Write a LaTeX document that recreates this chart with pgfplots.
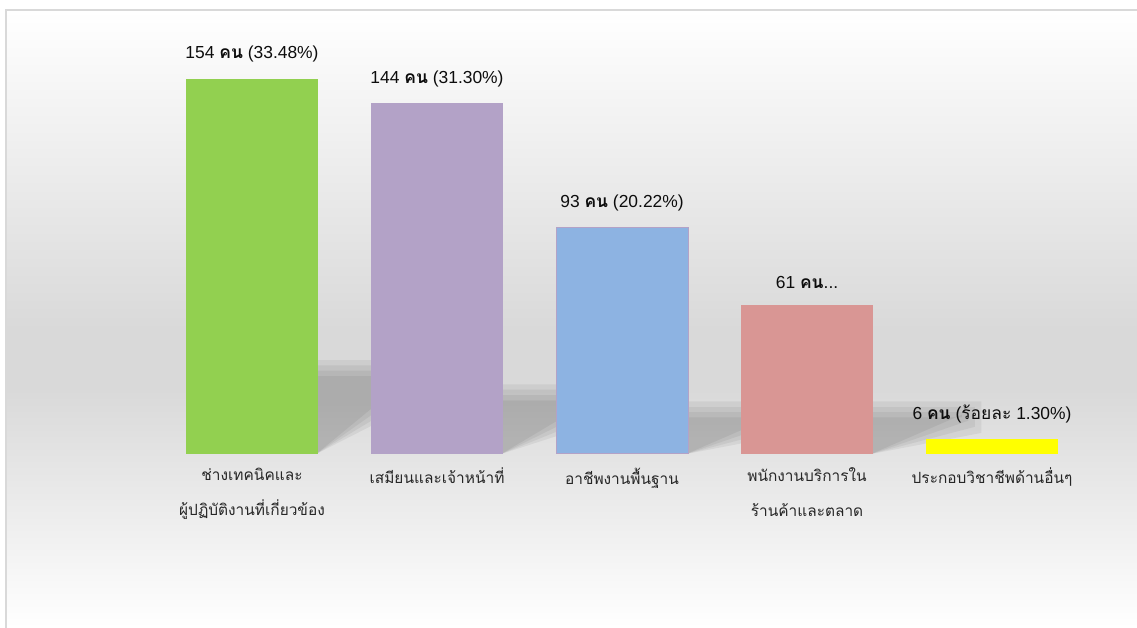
\documentclass[border=0pt]{standalone}
\usepackage{fontspec}
\setmainfont{Liberation Sans}
\newfontfamily\thai[Script=Thai]{Loma}
\usepackage{pgfplots}
\pgfplotsset{compat=1.18}
\definecolor{cgreen}{HTML}{92D050}
\definecolor{cpurple}{HTML}{B3A2C7}
\definecolor{cblue}{HTML}{8DB3E2}
\definecolor{cred}{HTML}{D99694}
\definecolor{cyellow}{HTML}{FFFF00}
\definecolor{cbg}{HTML}{D9D9D9}
% soft shadow: #1 = right edge of bar, #2 = shadow height, #3 = layer
\newcommand\shlayer[3]{%
  \fill[black, opacity=0.055] (axis cs:#1-0.01,0) -- (axis cs:#1+0.48+0.035*#3,0.85*#2-2.5*#3) -- (axis cs:#1+0.48+0.035*#3,#2-4+2.2*#3) -- (axis cs:#1-0.01,#2-4+2.2*#3) -- cycle;}
\newcommand\shadow[2]{\shlayer{#1}{#2}{0}\shlayer{#1}{#2}{1}\shlayer{#1}{#2}{2}\shlayer{#1}{#2}{3}}
\begin{document}
\begin{tikzpicture}[x=1bp,y=1bp]
\useasboundingbox (0,0) rectangle (1137,628);
\fill[white] (0,0) rectangle (1137,628);
\shade[top color=white, bottom color=cbg] (6,298) rectangle (1137,618);
\fill[cbg] (6,238) rectangle (1137,298.5);
\shade[top color=cbg, bottom color=white] (6,0) rectangle (1137,238.5);
\draw[cbg, line width=1.5bp] (6,0) -- (6,618) -- (1137,618);
\begin{axis}[
  at={(252bp,174bp)}, anchor=origin,
  x=185bp, y=2.435bp,
  xmin=-1.3, xmax=4.7, ymin=0, ymax=170,
  clip=false,
  axis line style={draw=none},
  tick style={draw=none},
  ytick=\empty,
  xtick={0,1,2,3,4},
  xticklabels={{ช่างเทคนิคและ\\ผู้ปฏิบัติงานที่เกี่ยวข้อง},{เสมียนและเจ้าหน้าที่},{อาชีพงานพื้นฐาน},{พนักงานบริการใน\\ร้านค้าและตลาด},{ประกอบวิชาชีพด้านอื่นๆ}},
  xticklabel style={font=\thai\fontsize{15.5}{35}\selectfont, align=center, text=black!85, anchor=north, yshift=-6bp},
  ybar, bar width=132bp, bar shift=0pt,
  nodes near coords style={font=\fontsize{17.5}{21}\selectfont, text=black!95, anchor=south, yshift=13bp},
]
\shadow{0.357}{36}
\shadow{1.357}{26}
\shadow{2.357}{19}
\shadow{3.357}{19}
\addplot[fill=cgreen, draw=none, nodes near coords={154 {\thai\bfseries คน} (33.48\%)}] coordinates {(0,154)};
\addplot[fill=cpurple, draw=none, nodes near coords={144 {\thai\bfseries คน} (31.30\%)}] coordinates {(1,144)};
\addplot[fill=cblue, draw=cpurple, line width=1bp, nodes near coords={93 {\thai\bfseries คน} (20.22\%)}] coordinates {(2,93)};
\addplot[fill=cred, draw=none, nodes near coords={61 {\thai\bfseries คน}...}] coordinates {(3,61)};
\addplot[fill=cyellow, draw=none, nodes near coords={6 {\thai\bfseries คน} ({\thai ร้อยละ} 1.30\%)}] coordinates {(4,6)};
\end{axis}
\end{tikzpicture}
\end{document}
